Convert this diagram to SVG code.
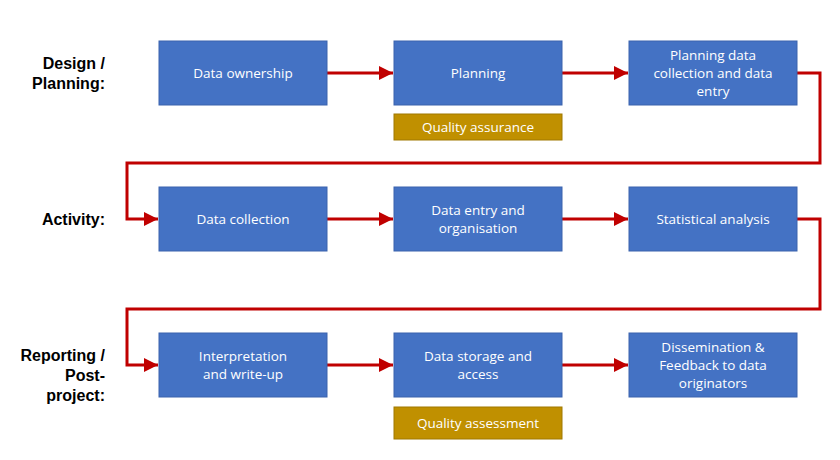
<svg xmlns="http://www.w3.org/2000/svg" width="840" height="460" viewBox="0 0 840 460">
<style>
.b{fill:#4472c4;stroke:#3a63ad;stroke-width:1}
.g{fill:#c09000;stroke:#a07800;stroke-width:1}
.t{font-family:"Open Sans","Liberation Sans",sans-serif;font-size:13.5px;fill:#fff;text-anchor:middle}
.l{font-family:"Liberation Sans",sans-serif;font-size:16px;font-weight:bold;fill:#000;text-anchor:end}
.c{fill:none;stroke:#c00000;stroke-width:3;marker-end:url(#a)}
</style>
<defs><marker id="a" markerUnits="userSpaceOnUse" markerWidth="14" markerHeight="14" refX="14" refY="7" orient="auto"><path d="M0,0L14,7L0,14z" fill="#c00000"/></marker></defs>
<rect width="840" height="460" fill="#fff"/>
<g id="labels">
<text class="l" x="105" y="69">Design /</text><text class="l" x="105" y="89">Planning:</text>
<text class="l" x="105" y="225">Activity:</text>
<text class="l" x="105" y="361">Reporting /</text><text class="l" x="105" y="381">Post-</text><text class="l" x="105" y="401">project:</text>
</g>
<g id="connectors">
<path class="c" d="M327,73H393"/><path class="c" d="M562,73H628"/>
<path class="c" d="M797,73H820V163H127V219H158"/>
<path class="c" d="M327,219H393"/><path class="c" d="M562,219H628"/>
<path class="c" d="M797,219H820V309H127V365H158"/>
<path class="c" d="M327,365H393"/><path class="c" d="M562,365H628"/>
</g>
<g id="n1"><rect class="b" x="159" y="41" width="168" height="64"/><text class="t" x="243" y="78">Data ownership</text></g>
<g id="n2"><rect class="b" x="394" y="41" width="168" height="64"/><text class="t" x="478" y="78">Planning</text></g>
<g id="n3"><rect class="b" x="629" y="41" width="168" height="64"/><text class="t" x="713" y="60">Planning data</text><text class="t" x="713" y="78">collection and data</text><text class="t" x="713" y="96">entry</text></g>
<g id="qa"><rect class="g" x="394" y="114" width="168" height="26"/><text class="t" x="478" y="132">Quality assurance</text></g>
<g id="n4"><rect class="b" x="159" y="187" width="168" height="64"/><text class="t" x="243" y="224">Data collection</text></g>
<g id="n5"><rect class="b" x="394" y="187" width="168" height="64"/><text class="t" x="478" y="215">Data entry and</text><text class="t" x="478" y="233">organisation</text></g>
<g id="n6"><rect class="b" x="629" y="187" width="168" height="64"/><text class="t" x="713" y="224">Statistical analysis</text></g>
<g id="n7"><rect class="b" x="159" y="333" width="168" height="64"/><text class="t" x="243" y="361">Interpretation</text><text class="t" x="243" y="379">and write-up</text></g>
<g id="n8"><rect class="b" x="394" y="333" width="168" height="64"/><text class="t" x="478" y="361">Data storage and</text><text class="t" x="478" y="379">access</text></g>
<g id="n9"><rect class="b" x="629" y="333" width="168" height="64"/><text class="t" x="713" y="352">Dissemination &amp;</text><text class="t" x="713" y="370">Feedback to data</text><text class="t" x="713" y="388">originators</text></g>
<g id="qs"><rect class="g" x="394" y="407" width="168" height="32"/><text class="t" x="478" y="428">Quality assessment</text></g>
</svg>
